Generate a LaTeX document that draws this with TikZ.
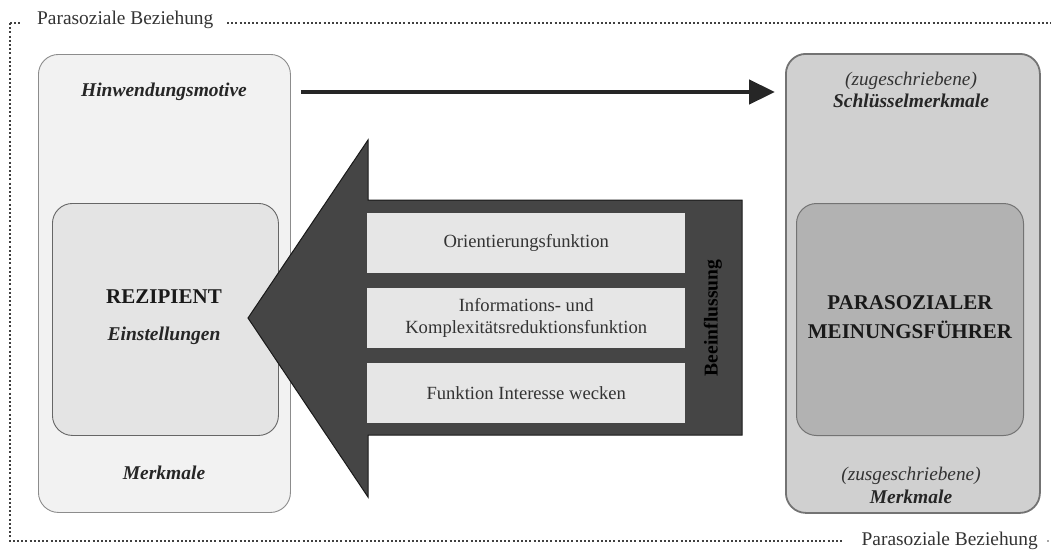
\documentclass[tikz,border=0pt]{standalone}
\usepackage{fontspec}
\setmainfont{Liberation Serif}
\usetikzlibrary{arrows.meta}
\definecolor{lfill}{HTML}{F2F2F2}
\definecolor{lin}{HTML}{E4E4E4}
\definecolor{rfill}{HTML}{D0D0D0}
\definecolor{rin}{HTML}{B2B2B2}
\definecolor{dark}{HTML}{454545}
\definecolor{fbox}{HTML}{E6E6E6}
\definecolor{ftext}{HTML}{333333}
\tikzset{
  outerbox/.style={draw=#1, rounded corners=20pt, inner sep=0pt, anchor=north west},
  frame/.style={line width=1.4pt, draw=black!75, dash pattern=on 2pt off 2.2pt},
  lbl/.style={font=\fontsize{19.4}{21}\selectfont, inner sep=0pt, align=center},
  bi/.style={lbl, font=\fontsize{19.5}{21}\selectfont\bfseries\itshape, text=black!85},
  it/.style={lbl, font=\fontsize{19.3}{21}\selectfont\itshape, text=black!80},
  caps/.style={lbl, font=\fontsize{21}{29}\selectfont\bfseries, text=black!90},
  funcbox/.style={fill=fbox, draw=none, minimum width=318pt, minimum height=60pt, inner sep=0pt, anchor=north west, align=center, text=ftext, font=\fontsize{18.6}{22}\selectfont},
}
\begin{document}
\begin{tikzpicture}[x=1pt,y=-1pt]
\useasboundingbox (0,0) rectangle (1051,550);
% frame
\node[lbl, text=black!80, anchor=west] (ftop) at (37,20) {Parasoziale Beziehung};
\node[lbl, text=black!80, anchor=east] (fbot) at (1038,541) {Parasoziale Beziehung};
\coordinate (c1) at (10,23);
\coordinate (c2) at (10,541);
\coordinate (c3) at (1051,23);
\coordinate (c4) at (843,541);
\draw[frame] (c1) -- (c2) -- (c4);
\draw[frame] (c1) -- (21,23);
\draw[frame] (227,23) -- (c3);
\fill[black!70] (1048,541) circle (0.9pt);
% left boxes
\node[outerbox=black!45, fill=lfill, line width=0.9pt, minimum width=252pt, minimum height=458pt] (lbox) at (38,54) {};
\node[outerbox=black!60, fill=lin, line width=0.9pt, minimum width=226pt, minimum height=232pt] (lin) at (52,203) {};
% right boxes
\node[outerbox=black!55, fill=rfill, line width=1.8pt, minimum width=254pt, minimum height=459pt] (rbox) at (785,53) {};
\node[outerbox=black!55, fill=rin, line width=1pt, minimum width=227pt, minimum height=232pt] (rin) at (796,203) {};
% texts left
\node[bi] (hin) at (164,92) {Hinwendungsmotive};
\node[caps] (rez) at (164,297) {REZIPIENT};
\node[bi] (ein) at (164,336) {Einstellungen};
\node[bi] (lmerk) at (164,473) {Merkmale};
% texts right
\node[it] (zug) at (911,81) {(zugeschriebene)};
\node[bi] (schl) at (911,101) {Schlüsselmerkmale};
\node[caps] (pmf) at (910,317) {PARASOZIALER\\MEINUNGSFÜHRER};
\node[it] (zus) at (911,476) {(zusgeschriebene)};
\node[bi] (rmerk) at (911,497) {Merkmale};
% top arrow
\draw[line width=4.5pt, draw=black!85, -{Triangle[length=26pt,width=24pt]}] ([xshift=10pt]lbox.east |- hin) -- ([xshift=-10pt]rbox.west |- hin);
% big dark arrow
\coordinate (tip) at (248,318);
\draw[fill=dark, draw=black!90, line width=1pt, line join=miter]
  (tip) -- (368,140) -- (368,200) -- (742,200) -- (742,435) -- (368,435) -- (368,497) -- cycle;
\node[funcbox] (f1) at (367,213) {Orientierungsfunktion};
\node[funcbox] (f2) at (367,288) {Informations- und\\Komplexitätsreduktionsfunktion};
\node[funcbox] (f3) at (367,363) {Funktion Interesse wecken};
\node[lbl, font=\fontsize{19.6}{21}\selectfont\bfseries, text=black, rotate=90] (bee) at (713,318) {Beeinflussung};
\end{tikzpicture}
\end{document}
